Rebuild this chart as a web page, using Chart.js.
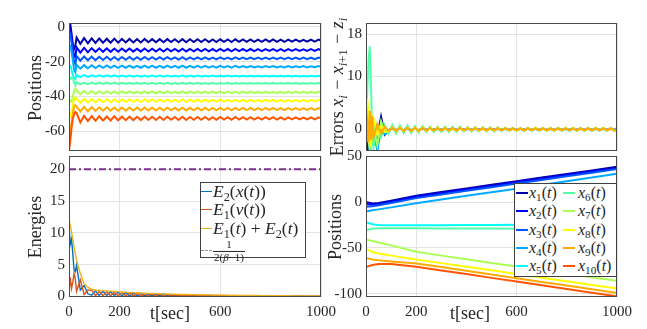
<!DOCTYPE html>
<html><head><meta charset="utf-8">
<script src="https://cdn.jsdelivr.net/npm/chart.js@4/dist/chart.umd.min.js"></script>
<style>
html,body{margin:0;padding:0;background:#fff;}
#wrap{position:relative;width:647px;height:329px;overflow:hidden;font-family:"Liberation Serif",serif;color:#262626;}
canvas{position:absolute;left:0;top:0;}
.lbl{position:absolute;white-space:nowrap;transform:translate(-50%,-50%);font-size:18px;line-height:1;}
.rot{transform:translate(-50%,-50%) rotate(-90deg);}
.leg{position:absolute;background:#fff;border:1px solid #404040;box-sizing:border-box;}
.row{position:absolute;white-space:nowrap;line-height:1;transform:translateY(-50%);}
.sw{position:absolute;height:0;}
sub{font-size:0.7em;vertical-align:-0.3em;line-height:0;}
.m{margin:0 0.3em;font-style:normal;}
.frac{display:inline-block;vertical-align:middle;text-align:center;font-size:11px;line-height:1.05;}
.frac .den{display:block;border-top:1px solid #262626;padding:0 1px;}
</style></head>
<body>
<div id="wrap">
<canvas id="cTL" width="647" height="329"></canvas>
<canvas id="cBL" width="647" height="329"></canvas>
<canvas id="cTR" width="647" height="329"></canvas>
<canvas id="cBR" width="647" height="329"></canvas>

<div class="lbl rot" style="left:35px;top:88px;">Positions</div>
<div class="lbl rot" style="left:35px;top:227px;">Energies</div>
<div class="lbl" style="left:170px;top:313px;">t[sec]</div>
<div class="lbl" style="left:470px;top:313px;">t[sec]</div>
<div class="lbl rot" style="left:335px;top:227px;">Positions</div>
<div class="lbl rot" style="left:337px;top:87px;font-size:18px;">Errors <i>x<sub>i</sub></i><span class="m">−</span><i>x</i><sub><i>i</i>+1</sub><span class="m">−</span><i>z<sub>i</sub></i></div>

<div class="leg" style="left:200px;top:182px;width:106px;height:76px;"></div>
<div class="sw" style="left:201px;top:191px;width:11px;border-top:1.5px solid #0072BD;"></div>
<div class="row" style="left:213px;top:192px;font-size:17.5px;"><i>E</i><sub>2</sub>(<i>x</i>(<i>t</i>))</div>
<div class="sw" style="left:201px;top:209px;width:11px;border-top:1.5px solid #D95319;"></div>
<div class="row" style="left:213px;top:210px;font-size:17.5px;"><i>E</i><sub>1</sub>(<i>v</i>(<i>t</i>))</div>
<div class="sw" style="left:201px;top:228px;width:11px;border-top:1.5px solid #EDB120;"></div>
<div class="row" style="left:213px;top:228.5px;font-size:17.5px;"><i>E</i><sub>1</sub>(<i>t</i>) + <i>E</i><sub>2</sub>(<i>t</i>)</div>
<div class="sw" style="left:201px;top:250px;width:11px;border-top:1.5px dashed #B07CC0;"></div>
<div class="row" style="left:213px;top:251px;"><span class="frac"><span>1</span><span class="den">2(<i>β</i>−1)</span></span></div>

<div class="leg" style="left:514px;top:183px;width:103px;height:94px;"></div>
<div id="legR"></div>
</div>
<script>
// ---------------- data ----------------
const TIME = [0,5,10,15,20,25,30,45,60,75,90,105,120,135,150,165,180,195,210,225,240,255,270,285,300,315,330,345,360,375,390,405,420,435,450,465,480,495,510,525,540,555,570,585,600,615,630,645,660,675,690,705,720,735,750,765,780,795,810,825,840,855,870,885,900,915,930,945,960,975,990,1000];
const X_TICKS = [0,200,600,1000];

// top-left: positions
const POS1 = [1.0,1.8,-3.5,-9.5,-12.8,-11.0,
-6.1,-9.7,-6.4,-9.4,-6.6,-9.2,-6.7,-9.1,-6.8,-9.1,-6.7,-9.0,
-6.9,-8.9,-6.9,-8.9,-7.0,-8.9,-6.9,-8.8,
-7.0,-8.8,-7.0,-8.8,-7.0,-8.7,-7.1,-8.8,-7.0,-8.8,-7.1,-8.7,
-7.1,-8.7,-7.1,-8.7,-7.2,-8.7,-7.1,-8.6,-7.2,-8.7,-7.1,-8.6,
-7.2,-8.6,-7.2,-8.6,-7.3,-8.6,-7.2,-8.5,-7.2,-8.6,-7.3,-8.6,
-7.3,-8.5,-7.3,-8.5,-7.4,-8.5,-7.3,-8.5,
-7.3,-7.9];
const POS2 = [-1.5,-2.5,-6.5,-12.0,-17.0,-17.5,
-11.8,-14.8,-12.0,-14.6,-12.2,-14.4,-12.3,-14.3,-12.3,-14.3,-12.4,-14.3,
-12.4,-14.2,-12.4,-14.2,-12.5,-14.2,-12.4,-14.1,
-12.5,-14.1,-12.5,-14.1,-12.5,-14.0,-12.6,-14.1,-12.5,-14.1,-12.6,-14.0,
-12.6,-14.0,-12.6,-14.0,-12.7,-14.0,-12.6,-13.9,-12.7,-14.0,-12.6,-13.9,
-12.7,-13.9,-12.7,-13.9,-12.8,-13.9,-12.7,-13.8,-12.7,-13.9,-12.8,-13.9,
-12.8,-13.8,-12.8,-13.8,-12.9,-13.8,-12.8,-13.8,
-12.8,-13.3];
const POS3 = [-3.0,-4.0,-8.5,-14.5,-20.0,-21.5,
-16.8,-19.4,-17.0,-19.2,-17.1,-19.1,-17.2,-19.0,-17.2,-19.0,-17.3,-19.0,
-17.3,-18.9,-17.3,-18.9,-17.4,-18.9,-17.3,-18.8,
-17.4,-18.8,-17.4,-18.8,-17.4,-18.7,-17.5,-18.8,-17.4,-18.8,-17.5,-18.7,
-17.5,-18.7,-17.5,-18.7,-17.6,-18.7,-17.5,-18.6,-17.6,-18.7,-17.5,-18.6,
-17.6,-18.6,-17.6,-18.6,-17.7,-18.6,-17.6,-18.5,-17.6,-18.6,-17.7,-18.6,
-17.6,-18.6,-17.7,-18.5,-17.6,-18.6,-17.7,-18.5,
-17.6,-18.1];
const POS4 = [-10.0,-11.0,-14.0,-19.0,-24.5,-26.0,
-21.8,-24.0,-22.0,-23.8,-22.1,-23.7,-22.2,-23.6,-22.2,-23.6,-22.3,-23.6,
-22.3,-23.5,-22.3,-23.5,-22.4,-23.5,-22.3,-23.5,
-22.3,-23.5,-22.4,-23.5,-22.3,-23.4,-22.4,-23.5,-22.3,-23.5,-22.4,-23.4,
-22.4,-23.4,-22.4,-23.4,-22.5,-23.4,-22.4,-23.3,-22.5,-23.4,-22.4,-23.3,
-22.5,-23.3,-22.5,-23.3,-22.6,-23.3,-22.5,-23.2,-22.5,-23.3,-22.6,-23.3,
-22.5,-23.3,-22.6,-23.2,-22.5,-23.3,-22.6,-23.2,
-22.5,-22.9];
const POS5 = [-22.0,-22.5,-24.5,-27.5,-29.5,-30.0,
-27.7,-28.9,-27.8,-28.8,-27.9,-28.7,-27.9,-28.7,-27.9,-28.7,-27.9,-28.6,
-28.0,-28.6,-28.0,-28.6,-28.0,-28.6,-28.0,-28.6,
-28.0,-28.6,-28.0,-28.6,-28.0,-28.6,-28.1,-28.6,-28.0,-28.6,-28.0,-28.6,
-28.0,-28.6,-28.1,-28.6,-28.0,-28.6,-28.1,-28.5,-28.0,-28.6,-28.1,-28.5,
-28.1,-28.5,-28.1,-28.5,-28.1,-28.5,-28.1,-28.5,-28.1,-28.5,-28.1,-28.5,
-28.1,-28.5,-28.1,-28.5,-28.2,-28.5,-28.1,-28.5,
-28.1,-28.3];
const POS6 = [-30.5,-30.0,-29.0,-29.5,-31.5,-33.5,
-31.9,-33.1,-32.0,-33.0,-32.1,-32.9,-32.1,-32.9,-32.1,-32.9,-32.1,-32.8,
-32.2,-32.8,-32.2,-32.8,-32.2,-32.8,-32.2,-32.8,
-32.2,-32.8,-32.2,-32.8,-32.2,-32.8,-32.3,-32.8,-32.2,-32.8,-32.2,-32.8,
-32.2,-32.8,-32.3,-32.8,-32.2,-32.8,-32.3,-32.7,-32.2,-32.8,-32.3,-32.7,
-32.3,-32.7,-32.3,-32.7,-32.3,-32.7,-32.3,-32.7,-32.3,-32.7,-32.3,-32.7,
-32.3,-32.7,-32.3,-32.7,-32.4,-32.7,-32.3,-32.7,
-32.3,-32.5];
const POS7 = [-41.0,-42.5,-43.0,-40.5,-37.0,-35.5,
-36.6,-38.8,-36.8,-38.6,-36.9,-38.5,-37.0,-38.4,-37.0,-38.4,-37.1,-38.4,
-37.1,-38.3,-37.1,-38.3,-37.2,-38.3,-37.1,-38.3,
-37.1,-38.3,-37.2,-38.3,-37.1,-38.2,-37.2,-38.3,-37.1,-38.3,-37.2,-38.2,
-37.2,-38.2,-37.2,-38.2,-37.3,-38.2,-37.2,-38.1,-37.3,-38.2,-37.2,-38.1,
-37.3,-38.1,-37.3,-38.1,-37.4,-38.1,-37.3,-38.0,-37.3,-38.1,-37.4,-38.1,
-37.3,-38.1,-37.4,-38.0,-37.3,-38.1,-37.4,-38.0,
-37.3,-37.7];
const POS8 = [-51.0,-51.5,-49.0,-45.0,-41.5,-40.5,
-41.2,-43.8,-41.4,-43.6,-41.5,-43.5,-41.6,-43.4,-41.6,-43.4,-41.7,-43.4,
-41.7,-43.3,-41.7,-43.3,-41.8,-43.3,-41.7,-43.2,
-41.8,-43.2,-41.8,-43.2,-41.8,-43.1,-41.9,-43.2,-41.8,-43.2,-41.9,-43.1,
-41.9,-43.1,-41.9,-43.1,-42.0,-43.1,-41.9,-43.0,-42.0,-43.1,-41.9,-43.0,
-42.0,-43.0,-42.0,-43.0,-42.1,-43.0,-42.0,-42.9,-42.0,-43.0,-42.1,-43.0,
-42.0,-43.0,-42.1,-42.9,-42.0,-43.0,-42.1,-42.9,
-42.0,-42.5];
const POS9 = [-61.0,-60.0,-55.5,-50.0,-46.0,-45.0,
-45.8,-48.8,-46.0,-48.6,-46.2,-48.4,-46.3,-48.3,-46.3,-48.3,-46.4,-48.3,
-46.4,-48.2,-46.4,-48.2,-46.5,-48.2,-46.4,-48.1,
-46.5,-48.1,-46.5,-48.1,-46.5,-48.0,-46.6,-48.1,-46.5,-48.1,-46.6,-48.0,
-46.6,-48.0,-46.6,-48.0,-46.7,-48.0,-46.6,-47.9,-46.7,-48.0,-46.6,-47.9,
-46.7,-47.9,-46.7,-47.9,-46.8,-47.9,-46.7,-47.8,-46.7,-47.9,-46.8,-47.9,
-46.8,-47.8,-46.8,-47.8,-46.9,-47.8,-46.8,-47.8,
-46.8,-47.3];
const POS10 = [-71.0,-66.0,-58.5,-53.0,-50.5,-49.0,
-49.5,-55.0,-51.2,-54.2,-51.4,-54.0,-51.5,-53.9,-51.6,-53.9,-51.5,-53.8,
-51.7,-53.7,-51.7,-53.7,-51.8,-53.7,-51.7,-53.6,
-51.8,-53.6,-51.8,-53.6,-51.8,-53.5,-51.9,-53.6,-51.8,-53.6,-51.9,-53.5,
-51.9,-53.5,-51.9,-53.5,-52.0,-53.5,-51.9,-53.4,-52.0,-53.5,-51.9,-53.4,
-52.0,-53.4,-52.0,-53.4,-52.1,-53.4,-52.0,-53.3,-52.0,-53.4,-52.1,-53.4,
-52.1,-53.3,-52.1,-53.3,-52.2,-53.3,-52.1,-53.3,
-52.1,-52.7];
const Y_TICKS_TL = [-60,-40,-20,0];

// top-right: errors
const ERR1 = [-1.0,-3.8,-2.0,1.5,0.8,-1.5,0.5,-1.5,2.4,-1.0,
-0.2,0.2,-0.2,0.2,-0.2,0.2,-0.2,0.2,-0.2,0.2,
-0.1,0.1,-0.1,0.1,-0.1,0.1,-0.1,0.1,-0.1,0.1,-0.1,0.1,-0.1,0.1,-0.1,0.1,-0.1,0.1,-0.1,0.1,
-0.1,0.1,-0.1,0.1,-0.1,0.1,-0.1,0.1,-0.1,0.1,-0.1,0.1,-0.1,0.1,-0.1,0.1,-0.1,0.1,-0.1,0.1,
-0.1,0.1,-0.1,0.1,-0.1,0.1,-0.1,0.1,-0.1,0.1,-0.1,0.0];
const ERR2 = [0.5,-1.0,-4.0,-2.5,0.5,1.0,-0.5,-3.5,1.2,-0.8,
-0.2,0.2,-0.2,0.2,-0.2,0.2,-0.2,0.2,-0.2,0.2,
-0.1,0.1,-0.1,0.1,-0.1,0.1,-0.1,0.1,-0.1,0.1,-0.1,0.1,-0.1,0.1,-0.1,0.1,-0.1,0.1,-0.1,0.1,
-0.1,0.1,-0.1,0.1,-0.1,0.1,-0.1,0.1,-0.1,0.1,-0.1,0.1,-0.1,0.1,-0.1,0.1,-0.1,0.1,-0.1,0.1,
-0.1,0.1,-0.1,0.1,-0.1,0.1,-0.1,0.1,-0.1,0.1,-0.1,0.0];
const ERR3 = [2.0,3.0,-1.5,-3.8,-1.0,1.0,0.0,-2.0,0.8,-0.5,
-0.2,0.2,-0.2,0.2,-0.2,0.2,-0.2,0.2,-0.2,0.2,
-0.1,0.1,-0.1,0.1,-0.1,0.1,-0.1,0.1,-0.1,0.1,-0.1,0.1,-0.1,0.1,-0.1,0.1,-0.1,0.1,-0.1,0.1,
-0.1,0.1,-0.1,0.1,-0.1,0.1,-0.1,0.1,-0.1,0.1,-0.1,0.1,-0.1,0.1,-0.1,0.1,-0.1,0.1,-0.1,0.1,
-0.1,0.1,-0.1,0.1,-0.1,0.1,-0.1,0.1,-0.1,0.1,-0.1,0.0];
const ERR4 = [4.0,1.0,-2.0,-4.0,-3.0,0.5,1.5,-4.2,0.5,-0.9,
-0.5,0.5,-0.5,0.5,-0.4,0.5,-0.4,0.4,-0.4,0.4,
-0.3,0.3,-0.3,0.3,-0.3,0.3,-0.3,0.3,-0.3,0.3,-0.2,0.2,-0.2,0.2,-0.2,0.2,-0.2,0.2,-0.2,0.2,
-0.2,0.2,-0.2,0.2,-0.2,0.2,-0.2,0.2,-0.2,0.2,-0.2,0.2,-0.2,0.2,-0.2,0.2,-0.2,0.2,-0.2,0.2,
-0.2,0.2,-0.2,0.2,-0.2,0.2,-0.2,0.2,-0.2,0.2,-0.2,0.0];
const ERR5 = [3.0,5.0,2.0,-2.0,-3.5,-1.0,1.0,-0.5,0.8,-0.5,
-0.3,0.3,-0.3,0.3,-0.3,0.3,-0.3,0.3,-0.3,0.3,
-0.2,0.2,-0.2,0.2,-0.2,0.2,-0.2,0.2,-0.2,0.2,-0.2,0.2,-0.2,0.2,-0.2,0.2,-0.2,0.2,-0.2,0.2,
-0.1,0.1,-0.1,0.1,-0.1,0.1,-0.1,0.1,-0.1,0.1,-0.1,0.1,-0.1,0.1,-0.1,0.1,-0.1,0.1,-0.1,0.1,
-0.1,0.1,-0.1,0.1,-0.1,0.1,-0.1,0.1,-0.1,0.1,-0.1,0.0];
const ERR6 = [2.0,7.0,13.0,15.7,8.0,-1.0,-3.5,0.8,-1.5,0.8,
-0.8,0.8,-0.8,0.7,-0.7,0.7,-0.7,0.6,-0.6,0.6,
-0.5,0.5,-0.5,0.5,-0.5,0.5,-0.5,0.5,-0.5,0.5,-0.4,0.4,-0.4,0.4,-0.4,0.4,-0.4,0.4,-0.4,0.4,
-0.3,0.3,-0.3,0.3,-0.3,0.3,-0.3,0.3,-0.3,0.3,-0.3,0.3,-0.3,0.3,-0.3,0.3,-0.3,0.3,-0.3,0.3,
-0.3,0.3,-0.3,0.3,-0.3,0.3,-0.3,0.3,-0.3,0.3,-0.3,0.0];
const ERR7 = [-1.0,3.0,-2.0,-3.8,-1.0,2.0,0.5,-3.0,1.5,-0.5,
-0.4,0.4,-0.4,0.4,-0.4,0.4,-0.4,0.4,-0.4,0.4,
-0.3,0.3,-0.3,0.3,-0.3,0.3,-0.3,0.3,-0.3,0.3,-0.3,0.3,-0.3,0.3,-0.3,0.3,-0.3,0.3,-0.3,0.3,
-0.2,0.2,-0.2,0.2,-0.2,0.2,-0.2,0.2,-0.2,0.2,-0.2,0.2,-0.2,0.2,-0.2,0.2,-0.2,0.2,-0.2,0.2,
-0.2,0.2,-0.2,0.2,-0.2,0.2,-0.2,0.2,-0.2,0.2,-0.2,0.0];
const ERR8 = [1.0,5.8,3.0,-2.5,-3.0,0.5,2.0,-1.0,0.5,-0.5,
-0.3,0.3,-0.3,0.3,-0.3,0.3,-0.3,0.3,-0.3,0.3,
-0.2,0.2,-0.2,0.2,-0.2,0.2,-0.2,0.2,-0.2,0.2,-0.2,0.2,-0.2,0.2,-0.2,0.2,-0.2,0.2,-0.2,0.2,
-0.2,0.2,-0.2,0.2,-0.2,0.2,-0.2,0.2,-0.2,0.2,-0.2,0.2,-0.2,0.2,-0.2,0.2,-0.2,0.2,-0.2,0.2,
-0.2,0.2,-0.2,0.2,-0.2,0.2,-0.2,0.2,-0.2,0.2,-0.2,0.0];
const ERR9 = [4.8,1.5,-2.5,3.5,-2.0,2.5,-1.5,1.0,-0.8,0.5,
-0.3,0.3,-0.3,0.3,-0.3,0.3,-0.3,0.3,-0.3,0.3,
-0.25,0.25,-0.25,0.25,-0.25,0.25,-0.25,0.25,-0.25,0.25,-0.2,0.2,-0.2,0.2,-0.2,0.2,-0.2,0.2,-0.2,0.2,
-0.2,0.2,-0.2,0.2,-0.2,0.2,-0.2,0.2,-0.2,0.2,-0.2,0.2,-0.2,0.2,-0.2,0.2,-0.2,0.2,-0.2,0.2,
-0.2,0.2,-0.2,0.2,-0.2,0.2,-0.2,0.2,-0.2,0.2,-0.2,0.0];
const Y_TICKS_TR = [0,10,18];

// bottom-left: energies
const E2_X = [11.2,8.2,9.0,6.8,4.2,3.9,4.9,1.0,1.7,0.4,
0.17,0.88,0.14,0.79,0.13,0.72,0.12,0.65,0.10,0.58,0.09,0.52,0.08,0.47,0.07,0.41,0.07,0.38,0.06,0.34,0.06,
0.25,0.10,0.22,0.09,0.20,0.08,0.19,0.08,0.17,0.07,0.16,0.07,0.15,0.06,0.13,0.05,0.12,0.05,0.11,0.04,
0.09,0.06,0.08,0.05,0.07,0.05,0.07,0.04,0.06,0.04,0.05,0.04,0.05,0.03,0.05,0.03,0.04,0.03,0.04,0.02,0.03];
const E1_V = [0.8,3.0,1.2,2.2,3.6,2.8,0.8,2.6,0.3,1.0,
0.98,0.12,0.81,0.11,0.73,0.10,0.66,0.09,0.60,0.08,0.53,0.07,0.48,0.06,0.43,0.06,0.38,0.05,0.35,0.05,0.31,
0.10,0.23,0.10,0.21,0.09,0.20,0.08,0.18,0.08,0.17,0.07,0.15,0.06,0.14,0.06,0.13,0.05,0.12,0.05,0.11,
0.06,0.08,0.05,0.08,0.05,0.07,0.04,0.07,0.04,0.06,0.04,0.05,0.03,0.05,0.03,0.04,0.03,0.04,0.02,0.04,0.03];
const E_SUM = [12.0,11.2,10.2,9.0,7.8,6.7,5.7,3.6,2.0,1.4,
1.15,1.0,0.95,0.9,0.86,0.82,0.78,0.74,0.70,0.66,0.62,0.59,0.56,0.53,0.50,0.47,0.45,0.43,0.41,0.39,0.37,
0.35,0.33,0.32,0.30,0.29,0.28,0.27,0.26,0.25,0.24,0.23,0.22,0.21,0.20,0.19,0.18,0.17,0.17,0.16,0.15,
0.15,0.14,0.13,0.13,0.12,0.12,0.11,0.11,0.10,0.10,0.09,0.09,0.08,0.08,0.08,0.07,0.07,0.07,0.06,0.06,0.06];
const BOUND_T = [0,1000];
const BOUND = [20,20];
const Y_TICKS_BL = [0,5,10,15,20];

// bottom-right: positions (second run)
const TB = [0,25,50,100,200,300,400,500,600,700,800,900,1000];
const Q1 = [0.0,-1.5,-1.0,1.5,6.9,10.9,14.8,18.8,22.8,26.7,30.7,34.6,38.5];
const Q2 = [-2.0,-3.0,-2.2,0.3,5.7,9.7,13.6,17.6,21.6,25.5,29.5,33.4,37.3];
const Q3 = [-5.0,-4.5,-3.5,-1.0,4.3,8.3,12.3,16.2,20.2,24.1,28.1,32.0,36.0];
const Q4 = [-10.3,-9.0,-8.0,-5.8,-1.2,2.8,6.8,10.7,14.6,18.6,22.6,26.7,30.8];
const Q5 = [-22.0,-24.2,-25.0,-25.3,-25.3,-25.2,-25.1,-25.0,-24.9,-24.8,-24.7,-24.6,-24.5];
const Q6 = [-30.5,-29.2,-28.7,-28.6,-28.7,-28.8,-28.9,-29.0,-29.1,-29.2,-29.3,-29.4,-29.5];
const Q7 = [-41.0,-42.6,-44.2,-47.3,-54.3,-58.5,-62.5,-66.5,-70.5,-74.5,-78.3,-82.2,-86.0];
const Q8 = [-51.0,-54.5,-56.2,-58.5,-62.7,-66.7,-70.7,-74.6,-78.6,-82.6,-86.6,-90.5,-94.5];
const Q9 = [-61.0,-62.8,-63.6,-64.8,-67.0,-71.0,-75.0,-79.1,-83.2,-87.2,-91.2,-95.2,-99.3];
const Q10 = [-71.0,-68.8,-67.6,-67.6,-70.7,-74.7,-78.7,-82.8,-86.8,-90.9,-94.9,-99.0,-103.0];
const Y_TICKS_BR = [-100,-50,0,50];

const LEG_R = ['x1','x2','x3','x4','x5','x6','x7','x8','x9','x10'];

// ---------------- style ----------------
const W = 647, H = 329;
const JET = ['#0000AA','#0000FF','#0055FF','#00AAFF','#00FFFF','#55FFAA','#AAFF55','#FFFF00','#FFAA00','#FF5500'];
const GRID = '#e3e3e3', TXT = '#262626', FONT = '"Liberation Serif", serif';

const boxPlugin = {
  id: 'axbox',
  afterDatasetsDraw(chart) {
    const a = chart.chartArea, c = chart.ctx;
    c.save(); c.strokeStyle = '#4a4a4a'; c.lineWidth = 1;
    c.strokeRect(Math.round(a.left) + 0.5, Math.round(a.top) + 0.5, Math.round(a.right - a.left) - 1, Math.round(a.bottom - a.top) - 1);
    c.restore();
  }
};

function series(xs, ys, color, extra) {
  return Object.assign({
    data: xs.map((x, i) => ({x: x, y: ys[i]})),
    borderColor: color, backgroundColor: color, borderWidth: 1.6,
    pointRadius: 0, fill: false, tension: 0, clip: 0
  }, extra || {});
}

// later datasets are painted on top (as in the source plot)
function stackOrder(list) {
  list.forEach((d, i) => { d.order = list.length - i; });
  return list;
}

function panel(id, area, yMin, yMax, yTicks, showX, datasets) {
  const L = area[0], T = area[1], R = area[2], B = area[3];
  const xh = showX ? 22 : 0;
  return new Chart(document.getElementById(id), {
    type: 'line',
    data: {datasets: stackOrder(datasets)},
    options: {
      responsive: false, maintainAspectRatio: false, animation: false,
      layout: {padding: {left: 0, top: T, right: W - R, bottom: H - B - xh}},
      plugins: {legend: {display: false}, tooltip: {enabled: false}},
      scales: {
        x: {type: 'linear', min: 0, max: 1000,
          afterBuildTicks: s => { s.ticks = X_TICKS.map(v => ({value: v})); },
          afterFit: s => { s.height = xh; },
          grid: {color: GRID, drawTicks: false}, border: {display: false},
          ticks: {display: showX, padding: 6, color: TXT, font: {family: FONT, size: 15},
            maxRotation: 0, autoSkip: false, callback: v => String(v)}},
        y: {type: 'linear', min: yMin, max: yMax,
          afterBuildTicks: s => { s.ticks = yTicks.map(v => ({value: v})); },
          afterFit: s => { s.width = L; },
          grid: {color: GRID, drawTicks: false}, border: {display: false},
          ticks: {padding: 4, color: TXT, font: {family: FONT, size: 15},
            autoSkip: false, callback: v => String(v)}}
      }
    },
    plugins: [boxPlugin]
  });
}

const POS = [POS1,POS2,POS3,POS4,POS5,POS6,POS7,POS8,POS9,POS10];
panel('cTL', [69, 23, 321, 151], -71.5, 2.3, Y_TICKS_TL, false,
  POS.map((p, i) => series(TIME, p, JET[i], {borderWidth: 2})));

const ERR = [ERR1,ERR2,ERR3,ERR4,ERR5,ERR6,ERR7,ERR8,ERR9];
panel('cTR', [366, 23, 617, 151], -4.1, 20.1, Y_TICKS_TR, false,
  ERR.map((e, i) => series(TIME, e, JET[i], {borderWidth: 2})));

panel('cBL', [69, 156, 321, 297], -0.1, 22.1, Y_TICKS_BL, true, [
  series(TIME, E2_X, '#0072BD', {borderWidth: 1.4}),
  series(TIME, E1_V, '#D95319', {borderWidth: 1.4}),
  series(TIME, E_SUM, '#EDB120', {borderWidth: 1.4}),
  series(BOUND_T, BOUND, '#7E2F8E', {borderWidth: 2, borderDash: [7, 3, 2, 3]})
]);

const Q = [Q1,Q2,Q3,Q4,Q5,Q6,Q7,Q8,Q9,Q10];
panel('cBR', [366, 156, 617, 297], -103.7, 50.3, Y_TICKS_BR, true,
  Q.map((q, i) => series(TB, q, JET[i], {borderWidth: 2})));

// right legend (HTML text)
const legR = document.getElementById('legR');
const ROW_Y = [193, 211.3, 229.7, 248, 266.3];
LEG_R.forEach((name, i) => {
  const col = i < 5 ? 0 : 1, r = i % 5;
  const sx = col ? 563 : 516, tx = col ? 578 : 529;
  const sw = document.createElement('div');
  sw.className = 'sw';
  sw.style.cssText = 'left:' + sx + 'px;top:' + (ROW_Y[r] - 1) + 'px;width:12px;border-top:2px solid ' + JET[i] + ';';
  legR.appendChild(sw);
  const t = document.createElement('div');
  t.className = 'row';
  t.style.cssText = 'left:' + tx + 'px;top:' + ROW_Y[r] + 'px;font-size:16px;';
  t.innerHTML = '<i>x</i><sub>' + name.slice(1) + '</sub>(<i>t</i>)';
  legR.appendChild(t);
});
</script>
</body></html>
